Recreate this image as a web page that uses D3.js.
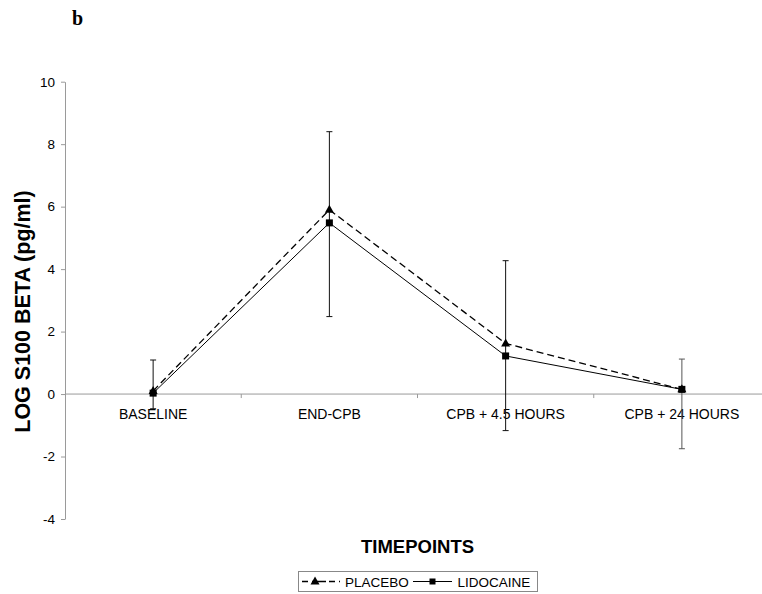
<!DOCTYPE html>
<html>
<head>
<meta charset="utf-8">
<script src="https://cdn.jsdelivr.net/npm/d3@7/dist/d3.min.js"></script>
<style>
  html, body { margin: 0; padding: 0; background: #fff; }
  svg { display: block; }
</style>
</head>
<body>
<script>
const categories = ["BASELINE", "END-CPB", "CPB + 4.5 HOURS", "CPB + 24 HOURS"];
const placebo = [0.1, 5.9, 1.62, 0.15];
const lidocaine = [0.03, 5.48, 1.22, 0.15];
const errTop = [1.09, 8.4, 4.27, 1.12];
const errBottom = [-0.47, 2.48, -1.17, -1.75];
const yTicks = [-4, -2, 0, 2, 4, 6, 8, 10];
const seriesNames = ["PLACEBO", "LIDOCAINE"];

const W = 762, H = 594;
const svg = d3.select("body").append("svg").attr("width", W).attr("height", H);
const font = "Liberation Sans, Arial, sans-serif";

const y = d3.scaleLinear().domain([-4, 10]).range([519, 81.7]);
const x = d3.scaleBand().domain(categories).range([65, 770]).padding(0);
const cx = d => x(d) + x.bandwidth() / 2;
const axisColor = "#9a9a9a";

// panel label
svg.append("text").attr("x", 72).attr("y", 25)
  .attr("font-family", "Liberation Serif, Times New Roman, serif")
  .attr("font-weight", "bold").attr("font-size", 20).text("b");

// y axis
const yAxis = svg.append("g").attr("transform", "translate(65,0)")
  .call(d3.axisLeft(y).tickValues(yTicks).tickFormat(d => String(d))
    .tickSize(4).tickSizeOuter(0).tickPadding(6));
yAxis.select(".domain").attr("stroke", axisColor);
yAxis.selectAll(".tick line").attr("stroke", axisColor);
yAxis.selectAll(".tick text").attr("font-family", font).attr("font-size", 13.5).attr("fill", "#000");

// x axis at zero
const y0 = y(0);
svg.append("line").attr("x1", 65).attr("x2", 770).attr("y1", y0).attr("y2", y0)
  .attr("stroke", axisColor).attr("stroke-width", 1);
svg.append("g").selectAll("line").data(categories.slice(1)).join("line")
  .attr("x1", d => x(d)).attr("x2", d => x(d))
  .attr("y1", y0).attr("y2", y0 + 4).attr("stroke", axisColor);
const xAxis = svg.append("g").attr("transform", `translate(0,${y0})`)
  .call(d3.axisBottom(x).tickSize(0).tickPadding(15));
xAxis.select(".domain").remove();
xAxis.selectAll(".tick text").attr("font-family", font).attr("font-size", 14).attr("fill", "#000");

// axis titles
svg.append("text").attr("transform", "translate(30,311.5) rotate(-90)")
  .attr("text-anchor", "middle").attr("font-family", font).attr("font-weight", "bold")
  .attr("font-size", 21.5).text("LOG S100 BETA (pg/ml)");
svg.append("text").attr("x", 417.5).attr("y", 553)
  .attr("text-anchor", "middle").attr("font-family", font).attr("font-weight", "bold")
  .attr("font-size", 18.5).text("TIMEPOINTS");

// lines
const line = d3.line().x((d, i) => cx(categories[i])).y(d => y(d));
svg.append("path").datum(placebo).attr("d", line).attr("fill", "none")
  .attr("stroke", "#000").attr("stroke-width", 1.3).attr("stroke-dasharray", "7,4");
svg.append("path").datum(lidocaine).attr("d", line).attr("fill", "none")
  .attr("stroke", "#000").attr("stroke-width", 1);

// error bars
const eb = svg.append("g");
categories.forEach((c, i) => {
  const col = i === 3 ? "#555" : "#111";
  const xx = cx(c);
  eb.append("line").attr("x1", xx).attr("x2", xx).attr("y1", y(errTop[i])).attr("y2", y(errBottom[i])).attr("stroke", col);
  [errTop[i], errBottom[i]].forEach(v => {
    eb.append("line").attr("x1", xx - 3).attr("x2", xx + 3).attr("y1", y(v)).attr("y2", y(v)).attr("stroke", col);
  });
});

// markers
const tri = (px, py) => `M${px},${py - 5}L${px + 4.5},${py + 3}L${px - 4.5},${py + 3}Z`;
svg.append("g").selectAll("path").data(placebo).join("path")
  .attr("d", (d, i) => tri(cx(categories[i]), y(d))).attr("fill", "#000");
svg.append("g").selectAll("rect").data(lidocaine).join("rect")
  .attr("x", (d, i) => cx(categories[i]) - 3.5).attr("y", d => y(d) - 3.5)
  .attr("width", 7).attr("height", 7).attr("fill", "#000");

// legend
const lg = svg.append("g");
lg.append("rect").attr("x", 298.5).attr("y", 571.5).attr("width", 239).attr("height", 20)
  .attr("fill", "#fff").attr("stroke", "#888");
lg.append("line").attr("x1", 302).attr("x2", 340).attr("y1", 581.5).attr("y2", 581.5)
  .attr("stroke", "#000").attr("stroke-width", 1.3).attr("stroke-dasharray", "6,4,14,3,6,4,1.5,10");
lg.append("path").attr("d", tri(315, 581.5)).attr("fill", "#000");
lg.append("text").attr("x", 345).attr("y", 586.5).attr("font-family", font).attr("font-size", 13.5).text(seriesNames[0]);
lg.append("line").attr("x1", 413).attr("x2", 452).attr("y1", 581.5).attr("y2", 581.5)
  .attr("stroke", "#000").attr("stroke-width", 1);
lg.append("rect").attr("x", 429.5).attr("y", 578.5).attr("width", 6).attr("height", 6).attr("fill", "#000");
lg.append("text").attr("x", 457.5).attr("y", 586.5).attr("font-family", font).attr("font-size", 13.5).text(seriesNames[1]);
</script>
</body>
</html>
